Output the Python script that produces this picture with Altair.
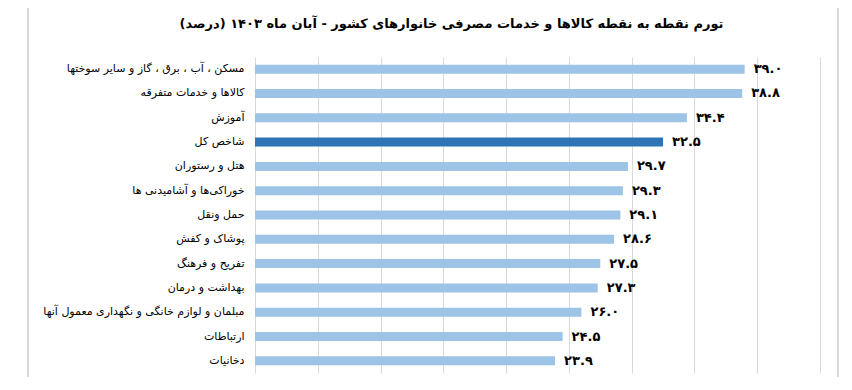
import altair as alt
import pandas as pd

categories = [
    "مسکن ، آب ، برق ، گاز و سایر سوختها",
    "کالاها و خدمات متفرقه",
    "آموزش",
    "شاخص کل",
    "هتل و رستوران",
    "خوراکی‌ها و آشامیدنی ها",
    "حمل ونقل",
    "پوشاک و کفش",
    "تفریح و فرهنگ",
    "بهداشت و درمان",
    "مبلمان و لوازم خانگی و نگهداری معمول آنها",
    "ارتباطات",
    "دخانیات",
]
values = [39.0, 38.8, 34.4, 32.5, 29.7, 29.3, 29.1, 28.6, 27.5, 27.3, 26.0, 24.5, 23.9]
highlight = "شاخص کل"
title_text = "تورم نقطه به نقطه کالاها و خدمات مصرفی خانوارهای کشور - آبان ماه ۱۴۰۳ (درصد)"

fa_digits = str.maketrans("0123456789", "۰۱۲۳۴۵۶۷۸۹")

df = pd.DataFrame({
    "cat": categories,
    "val": values,
    "label": [f"{v:.1f}".translate(fa_digits) for v in values],
    "kind": ["total" if c == highlight else "group" for c in categories],
})

FONT = "DejaVu Sans"

y_enc = alt.Y("cat:N", sort=categories, title=None,
              scale=alt.Scale(paddingInner=0.63, paddingOuter=0.315),
              axis=alt.Axis(domain=False, ticks=False, labelFont=FONT, labelFontSize=11,
                            labelColor="#000000", labelPadding=11, labelLimit=300))
x_enc = alt.X("val:Q", title=None,
              scale=alt.Scale(domain=[0, 45], nice=False),
              axis=alt.Axis(values=list(range(0, 46, 5)), labels=False, ticks=False,
                            domain=False, grid=True, gridColor="#d9d9d9", gridWidth=1))

bars = alt.Chart(df).mark_bar(size=9).encode(
    x=x_enc,
    y=y_enc,
    color=alt.Color("kind:N", scale=alt.Scale(domain=["group", "total"],
                                              range=["#9dc3e6", "#2e75b6"]), legend=None),
)

text = alt.Chart(df).mark_text(align="left", baseline="middle", dx=9, font=FONT,
                               fontSize=13, fontWeight="bold", color="#000000").encode(
    x="val:Q", y=alt.Y("cat:N", sort=categories), text="label:N")

frame = alt.Chart(pd.DataFrame({"k": [0]})).mark_rule(color="#d9d9d9", strokeWidth=2).encode(
    x=alt.value(-227), y=alt.value(-49), y2=alt.value(330))
frame2 = alt.Chart(pd.DataFrame({"k": [0]})).mark_rule(color="#d9d9d9", strokeWidth=2).encode(
    x=alt.value(583), y=alt.value(-49), y2=alt.value(330))

chart = alt.layer(bars, text, frame, frame2).properties(
    width=565, height=316,
    title=alt.Title(title_text, font=FONT, fontSize=13, fontWeight="bold", color="#000000",
                    anchor="middle", dx=-86, offset=-24),
    autosize=alt.AutoSizeParams(type="none"),
    padding={"left": 247, "top": 49, "right": 20, "bottom": 4},
).configure_view(stroke=None)

chart.save("out.html", embed_options={"renderer": "svg", "actions": False})
